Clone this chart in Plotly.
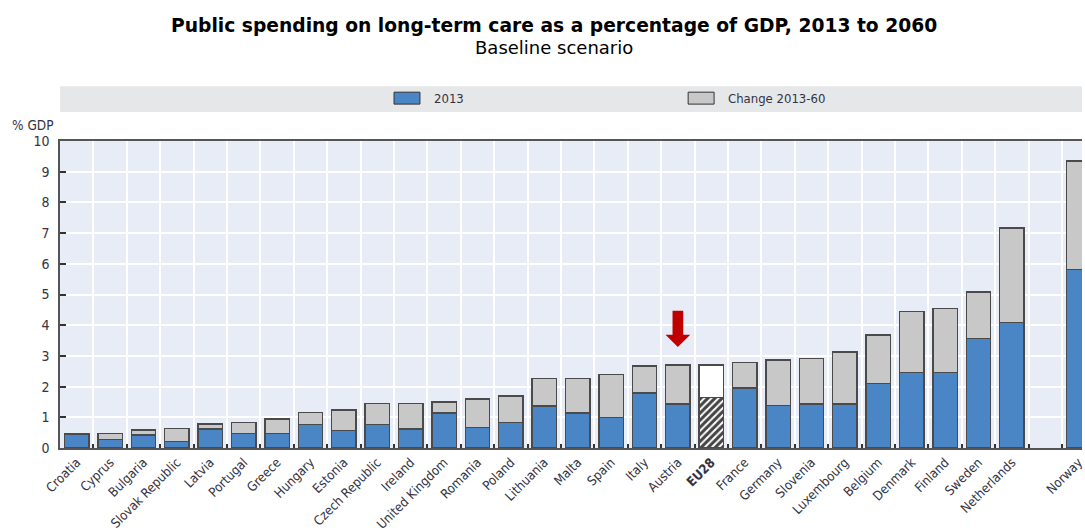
import plotly.graph_objects as go

countries = [
    "Croatia", "Cyprus", "Bulgaria", "Slovak Republic", "Latvia", "Portugal",
    "Greece", "Hungary", "Estonia", "Czech Republic", "Ireland", "United Kingdom",
    "Romania", "Poland", "Lithuania", "Malta", "Spain", "Italy", "Austria",
    "<b>EU28</b>", "France", "Germany", "Slovenia", "Luxembourg", "Belgium",
    "Denmark", "Finland", "Sweden", "Netherlands", " ", "Norway",
]
spend_2013 = [
    0.44, 0.27, 0.42, 0.21, 0.62, 0.47, 0.48, 0.77, 0.57, 0.77, 0.62, 1.14,
    0.67, 0.83, 1.37, 1.14, 1.00, 1.79, 1.44, 1.65, 1.95, 1.39, 1.44, 1.44,
    2.10, 2.46, 2.46, 3.57, 4.08, None, 5.81,
]
change_2013_60 = [
    0.04, 0.21, 0.16, 0.43, 0.16, 0.36, 0.46, 0.38, 0.66, 0.68, 0.83, 0.36,
    0.93, 0.87, 0.89, 1.12, 1.40, 0.88, 1.27, 1.06, 0.83, 1.47, 1.47, 1.69,
    1.58, 1.98, 2.09, 1.51, 3.09, None, 3.54,
]
y_ticks = [0, 1, 2, 3, 4, 5, 6, 7, 8, 9, 10]

BLUE = "#4a86c6"
GREY = "#c8c8c9"
EDGE = "#4a4a4a"
HIGHLIGHT = "<b>EU28</b>"
MARKED = "Austria"

FONT_NARROW = "Liberation Sans Narrow, Arial Narrow, DejaVu Sans Condensed, Liberation Sans, Arial"

is_eu = [c == HIGHLIGHT for c in countries]
base_colors = ["white" if e else BLUE for e in is_eu]
base_shapes = ["/" if e else "" for e in is_eu]
top_colors = ["white" if e else GREY for e in is_eu]

fig = go.Figure()
fig.add_trace(go.Bar(
    x=countries, y=spend_2013, name="2013", width=0.73,
    marker=dict(
        color=base_colors,
        line=dict(color=EDGE, width=1.5),
        pattern=dict(shape=base_shapes, fgcolor="#222222", fgopacity=1,
                     size=5, solidity=0.6),
    ),
))
fig.add_trace(go.Bar(
    x=countries, y=change_2013_60, name="Change 2013-60", width=0.73,
    marker=dict(color=top_colors, line=dict(color=EDGE, width=1.5)),
))

# plot area geometry (pixels)
L, R, T, B, W, H = 60, 0, 141, 83, 1085, 532
plot_h = H - T - B
x_lo, x_hi = -0.5, 30.1


def py(pix):
    """paper y from a pixel row"""
    return (H - B - pix) / plot_h


def px(pix):
    """paper x from a pixel column"""
    return (pix - L) / (W - L - R)


shapes = []
# legend band
shapes.append(dict(type="rect", xref="paper", yref="paper", x0=0, x1=1,
                   y0=py(112), y1=py(86), fillcolor="#e6e7e9", line=dict(width=0),
                   layer="below"))
for x0, col in [(395, BLUE), (690, GREY)]:
    shapes.append(dict(type="rect", xref="paper", yref="paper",
                       x0=px(x0), x1=px(x0 + 26), y0=py(104), y1=py(92),
                       fillcolor=col, line=dict(color="#333333", width=1)))

# red arrow pointing at the highlighted country
i = countries.index(MARKED)
total = spend_2013[i] + change_2013_60[i]
span = x_hi - x_lo
cx = (i - x_lo) / span
sw = 0.16 / span
hw = 0.37 / span
tip = total + 0.58
base = tip + 0.40
top = base + 0.78
path = (f"M {cx - sw},{top} L {cx + sw},{top} L {cx + sw},{base} "
        f"L {cx + hw},{base} L {cx},{tip} L {cx - hw},{base} "
        f"L {cx - sw},{base} Z")
shapes.append(dict(type="path", xref="paper", yref="y", path=path,
                   fillcolor="#c00000", line=dict(width=0)))

annotations = [
    dict(text="<b>Public spending on long-term care as a percentage of GDP, 2013 to 2060</b>",
         xref="paper", yref="paper", x=px(555), y=py(25), showarrow=False,
         font=dict(family="DejaVu Sans", size=18.7, color="#000000"),
         xanchor="center", yanchor="middle"),
    dict(text="Baseline scenario", xref="paper", yref="paper", x=px(555), y=py(47),
         showarrow=False, font=dict(family="DejaVu Sans", size=18, color="#000000"),
         xanchor="center", yanchor="middle"),
    dict(text="2013", xref="paper", yref="paper", x=px(433), y=py(98),
         showarrow=False, xanchor="left", yanchor="middle",
         font=dict(family=FONT_NARROW, size=13, color="#333344")),
    dict(text="Change 2013-60", xref="paper", yref="paper", x=px(728), y=py(98),
         showarrow=False, xanchor="left", yanchor="middle",
         font=dict(family=FONT_NARROW, size=13, color="#333344")),
    dict(text="% GDP", xref="paper", yref="paper", x=px(10), y=py(125),
         showarrow=False, xanchor="left", yanchor="middle",
         font=dict(family=FONT_NARROW, size=13.5, color="#333344")),
]

fig.update_layout(
    width=W, height=H,
    margin=dict(l=L, r=R, t=T, b=B, pad=0),
    barmode="stack",
    bargap=0.27,
    showlegend=False,
    paper_bgcolor="white",
    plot_bgcolor="#e8ecf6",
    shapes=shapes,
    annotations=annotations,
    xaxis=dict(
        type="category", range=[x_lo, x_hi], tickson="boundaries",
        showgrid=True, gridcolor="white", gridwidth=1.5,
        ticks="inside", ticklen=4, tickcolor="#333333", tickwidth=1.5,
        showline=True, linecolor="#555555", linewidth=1.5, mirror=True,
        tickangle=-45,
        tickfont=dict(family=FONT_NARROW, size=13, color="#333344"),
    ),
    yaxis=dict(
        range=[0, 10], tickvals=y_ticks,
        showgrid=True, gridcolor="white", gridwidth=1.5, zeroline=False,
        ticks="inside", ticklen=6, tickcolor="#333333", tickwidth=1.5,
        showline=True, linecolor="#555555", linewidth=1.5,
        tickfont=dict(family=FONT_NARROW, size=14, color="#333344"),
        ticklabelstandoff=6,
    ),
)

fig.write_html("out.html")
